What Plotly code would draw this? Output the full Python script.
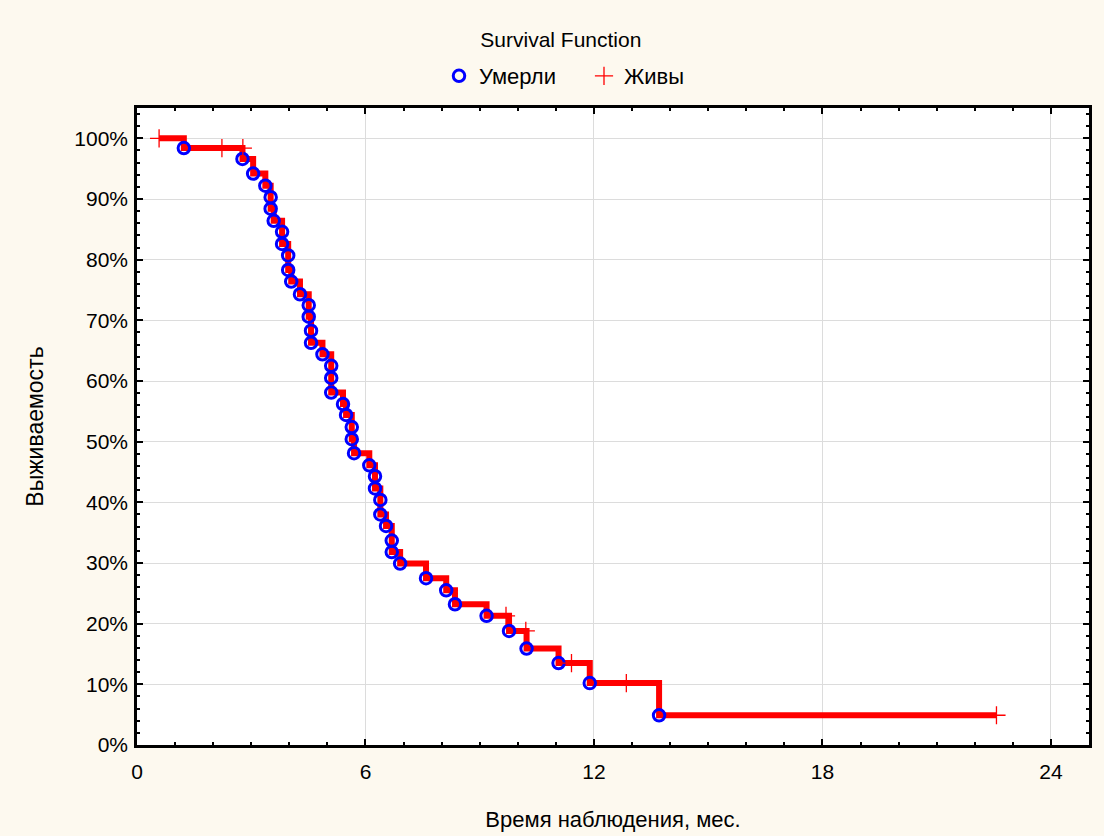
import plotly.graph_objects as go

# Deaths (complete observations): time (months) and survival level (%)
death_t = [1.23, 2.77, 3.05, 3.37, 3.51, 3.51, 3.59, 3.81, 3.81, 3.97, 3.97, 4.05,
           4.28, 4.51, 4.51, 4.57, 4.57, 4.87, 5.10, 5.10, 5.10, 5.41, 5.49, 5.64,
           5.64, 5.70, 6.10, 6.25, 6.25, 6.39, 6.39, 6.54, 6.69, 6.69, 6.91, 7.59,
           8.12, 8.35, 9.18, 9.77, 10.23, 11.07, 11.89, 13.71]
death_s = [98.4, 96.6, 94.2, 92.2, 90.3, 88.4, 86.4, 84.6, 82.6, 80.7, 78.3, 76.4,
           74.3, 72.5, 70.6, 68.3, 66.3, 64.4, 62.5, 60.5, 58.1, 56.2, 54.4, 52.4,
           50.4, 48.1, 46.1, 44.3, 42.3, 40.4, 38.0, 36.1, 33.7, 31.8, 29.9, 27.5,
           25.5, 23.2, 21.3, 18.8, 15.9, 13.5, 10.2, 4.9]

# Censored (alive) observations
cens_t = [0.58, 2.23, 2.78, 9.69, 10.21, 11.41, 12.85, 22.57]
cens_s = [100.0, 98.4, 98.4, 21.3, 18.8, 13.5, 10.2, 4.9]

# Step curve built from the read points
line_t = [cens_t[0]] + death_t + [cens_t[-1]]
line_s = [cens_s[0]] + death_s + [cens_s[-1]]

FONT = "Liberation Sans, Arial, sans-serif"

fig = go.Figure()
fig.add_trace(go.Scatter(x=line_t, y=line_s, mode="lines", line_shape="hv",
                         line=dict(color="#ff0000", width=6), showlegend=False,
                         hoverinfo="skip"))
fig.add_trace(go.Scatter(x=death_t, y=death_s, mode="markers", name="Умерли",
                         marker=dict(symbol="circle-open", size=11.5, color="#0000ff",
                                     line=dict(width=3, color="#0000ff"))))
fig.add_trace(go.Scatter(x=cens_t, y=cens_s, mode="markers", name="Живы",
                         marker=dict(symbol="cross-thin", size=13, color="#ff0000",
                                     line=dict(width=1.3, color="#ff0000"))))

axis_common = dict(showline=True, linecolor="black", linewidth=2.5, mirror="ticks",
                   ticks="inside", ticklen=6, tickwidth=2, tickcolor="black",
                   showgrid=True, gridcolor="#dcdcdc", gridwidth=1, zeroline=False,
                   automargin=False,
                   tickfont=dict(family=FONT, size=21, color="black"))

fig.update_layout(
    width=1104, height=836,
    paper_bgcolor="#fdf9ef", plot_bgcolor="white",
    margin=dict(l=137, r=15, t=108, b=91, autoexpand=False),
    font=dict(family=FONT, color="black"),
    title=dict(text="Survival Function", x=0.508, xref="container", xanchor="center",
               y=1 - 40 / 836, yref="container", yanchor="middle",
               font=dict(family=FONT, size=21, color="black")),
    legend=dict(orientation="h", x=439 / 1104, xref="container", xanchor="left",
                y=1 - 76 / 836, yref="container", yanchor="middle",
                bgcolor="rgba(0,0,0,0)", font=dict(family=FONT, size=22, color="black"),
                itemwidth=30, entrywidth=100, entrywidthmode="pixels"),
    xaxis=dict(range=[0, 25], tickmode="linear", tick0=0, dtick=6,
               minor=dict(dtick=1, ticks="inside", ticklen=3, tickcolor="black", showgrid=False),
               title=dict(text="Время наблюдения, мес.", standoff=30,
                          font=dict(family=FONT, size=22, color="black")),
               ticklabelstandoff=6, **axis_common),
    yaxis=dict(range=[0, 105], tickmode="linear", tick0=0, dtick=10, ticksuffix="%",
               minor=dict(dtick=2, ticks="inside", ticklen=3, tickcolor="black", showgrid=False),
               title=dict(text="Выживаемость", standoff=25,
                          font=dict(family=FONT, size=23, color="black")),
               ticklabelstandoff=2, **axis_common),
)

fig.write_html("out.html", config={"displayModeBar": False},
               post_script="document.body.style.margin='0';")
